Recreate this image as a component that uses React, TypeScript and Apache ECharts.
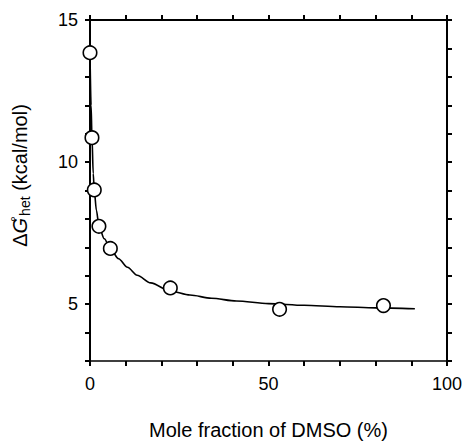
import React, { useEffect, useRef } from "react";
import * as echarts from "echarts";

// Measured points: mole fraction of DMSO (%) vs ΔG°het (kcal/mol)
const pointX = [0, 0.55, 1.2, 2.5, 5.7, 22.5, 53.1, 82.2];
const pointY = [13.85, 10.86, 9.02, 7.74, 6.96, 5.57, 4.82, 4.95];

// Fitted curve
const curveX = [0, 0.3, 0.55, 0.9, 1.2, 1.8, 2.5, 4.0, 5.7, 8, 10.5, 13.2, 17, 22.5, 28, 34, 41, 50, 60, 70, 80, 91];
const curveY = [13.85, 12.0, 10.9, 9.6, 9.0, 8.3, 7.75, 7.3, 6.95, 6.6, 6.3, 6.02, 5.75, 5.46, 5.32, 5.21, 5.11, 5.02, 4.96, 4.91, 4.87, 4.84];

const xTickLabels = [0, 50, 100];
const yTickLabels = [5, 10, 15];

const FONT = "'Liberation Sans', Arial, Helvetica, sans-serif";

export default function App() {
  const ref = useRef<HTMLDivElement>(null);
  useEffect(() => {
    if (!ref.current) return;
    const chart = echarts.init(ref.current, null, { renderer: "svg" });
    const axisLine = (w: number) => ({ show: true, onZero: false, lineStyle: { color: "#000", width: w } });
    const tick = { show: true, inside: false, length: 5, lineStyle: { color: "#000", width: 2 } };
    chart.setOption({
      animation: false,
      backgroundColor: "#fff",
      grid: { left: 87, top: 20, width: 360, height: 347, containLabel: false },
      xAxis: [
        {
          type: "value", min: 0, max: 100, interval: 10, position: "bottom",
          axisLine: axisLine(1.5), axisTick: tick, splitLine: { show: false },
          axisLabel: {
            margin: 14, color: "#000", fontSize: 18, fontFamily: FONT,
            formatter: (v: number) => (xTickLabels.includes(v) ? String(v) : ""),
          },
          name: "Mole fraction of DMSO (%)", nameLocation: "middle", nameGap: 59,
          nameTextStyle: { color: "#000", fontSize: 20, fontFamily: FONT },
        },
        {
          type: "value", min: 0, max: 100, interval: 10, position: "top",
          axisLine: axisLine(2), axisTick: tick, axisLabel: { show: false }, splitLine: { show: false },
        },
      ],
      yAxis: [
        {
          type: "value", min: 3, max: 15, interval: 1, position: "left",
          axisLine: axisLine(2), axisTick: tick, splitLine: { show: false },
          axisLabel: {
            margin: 12, color: "#000", fontSize: 18, fontFamily: FONT,
            formatter: (v: number) => (yTickLabels.includes(v) ? String(v) : ""),
          },
          name: "{m|Δ}{g|G}{deg|°}{sub|het}{m| (kcal/mol)}",
          nameLocation: "middle", nameRotate: 90, nameGap: 58,
          nameTextStyle: {
            color: "#000", fontFamily: FONT, fontSize: 20, padding: [0, 0, 0, 30],
            rich: {
              m: { fontSize: 20, lineHeight: 24, fontFamily: FONT, color: "#000", verticalAlign: "middle" },
              g: { fontSize: 20, lineHeight: 24, fontFamily: FONT, color: "#000", fontStyle: "italic", verticalAlign: "middle" },
              deg: { fontSize: 15, lineHeight: 15, fontFamily: FONT, color: "#000", verticalAlign: "top", padding: [0, 0, 0, -4] },
              sub: { fontSize: 14, lineHeight: 14, fontFamily: FONT, color: "#000", verticalAlign: "bottom" },
            },
          },
        },
        {
          type: "value", min: 3, max: 15, interval: 1, position: "right",
          axisLine: axisLine(2), axisTick: tick, axisLabel: { show: false }, splitLine: { show: false },
        },
      ],
      series: [
        {
          type: "line", data: curveX.map((x, i) => [x, curveY[i]]),
          showSymbol: false, symbol: "none", smooth: 0.3, smoothMonotone: "x",
          lineStyle: { color: "#000", width: 1.6 }, z: 2,
        },
        {
          type: "scatter", data: pointX.map((x, i) => [x, pointY[i]]),
          symbol: "circle", symbolSize: 13.5,
          itemStyle: { color: "#fff", borderColor: "#000", borderWidth: 1.6, opacity: 1 }, z: 3,
        },
      ],
    });
    return () => chart.dispose();
  }, []);
  return <div ref={ref} style={{ width: 467, height: 445, position: "absolute", left: 0, top: 0 }} />;
}
